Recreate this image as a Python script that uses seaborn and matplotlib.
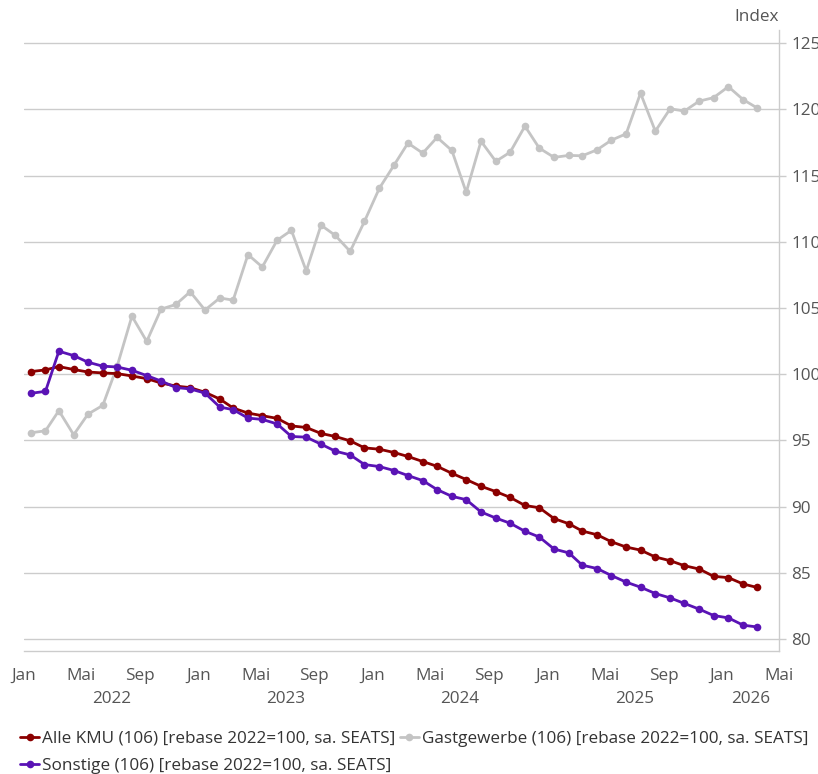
import matplotlib
matplotlib.use("Agg")
import matplotlib.pyplot as plt
import matplotlib.dates as mdates
import matplotlib.transforms as mtransforms
import numpy as np
import pandas as pd
import seaborn as sns

# Monthly index values (rebased 2022=100, seasonally adjusted), Jan 2022 - Mar 2026
start_month = "2022-01"
n_months = 51

alle_kmu = [100.2, 100.33, 100.58, 100.36, 100.17, 100.1, 100.05, 99.87, 99.67, 99.34,
            99.11, 98.99, 98.64, 98.13, 97.45, 97.07, 96.87, 96.67, 96.1, 95.98,
            95.53, 95.3, 94.97, 94.44, 94.34, 94.09, 93.79, 93.41, 93.05, 92.52,
            92.05, 91.54, 91.14, 90.7, 90.09, 89.92, 89.1, 88.71, 88.16, 87.88,
            87.35, 86.95, 86.72, 86.2, 85.92, 85.54, 85.29, 84.74, 84.64, 84.16,
            83.91]

gastgewerbe = [95.58, 95.73, 97.25, 95.43, 96.99, 97.65, 100.6, 104.39, 102.48, 104.92,
               105.27, 106.23, 104.85, 105.76, 105.6, 109.04, 108.1, 110.12, 110.87, 107.8,
               111.26, 110.48, 109.28, 111.55, 114.04, 115.8, 117.46, 116.7, 117.89, 116.9,
               113.74, 117.6, 116.08, 116.77, 118.74, 117.08, 116.38, 116.53, 116.5, 116.95,
               117.68, 118.16, 121.23, 118.36, 120.05, 119.88, 120.63, 120.89, 121.72, 120.74,
               120.14]

sonstige = [98.56, 98.71, 101.74, 101.41, 100.91, 100.61, 100.55, 100.3, 99.9, 99.49,
            99.0, 98.89, 98.58, 97.52, 97.33, 96.69, 96.59, 96.25, 95.3, 95.25,
            94.72, 94.19, 93.91, 93.18, 93.03, 92.73, 92.35, 91.97, 91.29, 90.78,
            90.53, 89.6, 89.14, 88.75, 88.14, 87.71, 86.8, 86.51, 85.58, 85.33,
            84.8, 84.3, 83.92, 83.44, 83.11, 82.69, 82.26, 81.78, 81.6, 81.05,
            80.92]

series_names = [
    "Alle KMU (106) [rebase 2022=100, sa. SEATS]",
    "Sonstige (106) [rebase 2022=100, sa. SEATS]",
    "Gastgewerbe (106) [rebase 2022=100, sa. SEATS]",
]
series_values = [alle_kmu, sonstige, gastgewerbe]
series_colors = ["#8b0000", "#5a13b5", "#c4c4c4"]

y_ticks = [80, 85, 90, 95, 100, 105, 110, 115, 120, 125]
month_labels = {1: "Jan", 5: "Mai", 9: "Sep"}
years = [2022, 2023, 2024, 2025, 2026]

# Each monthly value is plotted in the middle of its month
months = pd.period_range(start_month, periods=n_months, freq="M")
dates = months.to_timestamp(how="start") + pd.Timedelta(days=14)

frames = []
for name, vals in zip(series_names, series_values):
    frames.append(pd.DataFrame({"Datum": dates, "Index": vals, "Reihe": name}))
df = pd.concat(frames, ignore_index=True)

sns.set_theme(style="white")
plt.rcParams["font.family"] = ["Open Sans", "DejaVu Sans"]

text_color = "#555555"
grid_color = "#cccccc"
fs = 12.3

fig = plt.figure(figsize=(8.18, 7.74), dpi=100)
ax = fig.add_axes([24 / 818, 1 - 651 / 774, (779 - 24) / 818, (651 - 30) / 774])

# Draw the light series first so the others sit on top
draw_order = [2, 0, 1]
for k in draw_order:
    sub = df[df["Reihe"] == series_names[k]]
    sns.lineplot(data=sub, x="Datum", y="Index", ax=ax, color=series_colors[k],
                 linewidth=2.0, marker="o", markersize=5.5, markeredgewidth=0,
                 label=series_names[k], legend=False)

ax.set_xlim(pd.Timestamp("2022-01-01"), pd.Timestamp("2026-05-01"))
ax.set_ylim(79.1, 126.0)

# Right-hand value axis
ax.yaxis.tick_right()
ax.set_yticks(y_ticks)
ax.set_yticklabels([str(v) for v in y_ticks])
ax.tick_params(axis="y", which="major", direction="out", length=5, width=1,
               color=grid_color, labelcolor=text_color, labelsize=fs, pad=4,
               right=True, left=False)
for v in y_ticks:
    ax.axhline(v, color=grid_color, linewidth=1.0, zorder=0)

# Month ticks every four months
tick_dates = [d for d in pd.date_range("2022-01-01", "2026-05-01", freq="MS")
              if d.month in month_labels]
ax.set_xticks(tick_dates)
ax.set_xticklabels([month_labels[d.month] for d in tick_dates])
ax.tick_params(axis="x", which="major", direction="out", length=5, width=1,
               color="#aaaaaa", labelcolor=text_color, labelsize=fs, pad=7)

ax.set_xlabel("")
ax.set_ylabel("")

for side in ["top", "left"]:
    ax.spines[side].set_visible(False)
ax.spines["right"].set_color(grid_color)
ax.spines["bottom"].set_color(grid_color)
ax.spines["right"].set_linewidth(1.0)
ax.spines["bottom"].set_linewidth(1.0)

# Year labels centred under the visible part of each year
trans = mtransforms.blended_transform_factory(ax.transData, fig.transFigure)
x_end = pd.Timestamp("2026-05-01")
for yr in years:
    a = pd.Timestamp(f"{yr}-01-01")
    b = min(pd.Timestamp(f"{yr + 1}-01-01"), x_end)
    mid = a + (b - a) / 2
    ax.text(mdates.date2num(mid), 1 - 699 / 774, str(yr), transform=trans,
            ha="center", va="center", fontsize=fs, color=text_color)

# Axis title above the value axis
fig.text(779 / 818, 1 - 17 / 774, "Index", ha="right", va="center",
         fontsize=fs, color=text_color)

handles, labels = ax.get_legend_handles_labels()
order = [labels.index(n) for n in series_names]
leg = fig.legend([handles[i] for i in order], [labels[i] for i in order],
                 loc="lower left", bbox_to_anchor=(10 / 818, -0.013), ncol=2,
                 frameon=False, fontsize=fs, handlelength=1.1, handletextpad=0.2,
                 columnspacing=0.25, labelspacing=0.66, borderaxespad=0.2,
                 labelcolor="#333333")

fig.savefig("out.png", dpi=100)
